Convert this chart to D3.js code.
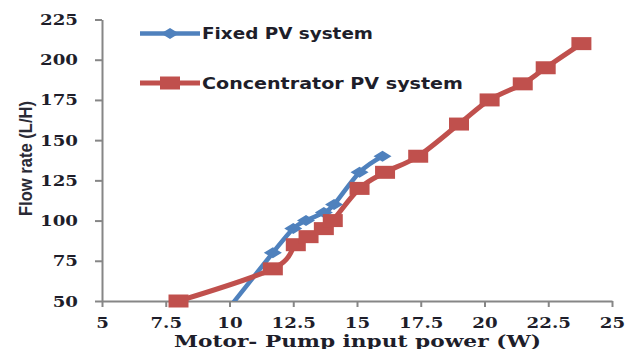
<!DOCTYPE html>
<html>
<head>
<meta charset="utf-8">
<script src="https://cdn.jsdelivr.net/npm/d3@7"></script>
<style>
  html, body { margin: 0; padding: 0; background: #fff; }
  svg { display: block; }
</style>
</head>
<body>
<svg id="chart" width="631" height="349"></svg>
<script>
// Flow rate versus motor-pump input power for two PV set-ups
const fixedPower = [9.7, 11.7, 12.5, 13.0, 13.7, 14.1, 15.1, 16.0];
const fixedFlow  = [40, 80, 95, 100, 105, 110, 130, 140];

const concPower = [8.0, 11.7, 12.6, 13.1, 13.7, 14.05, 15.1, 16.1, 17.4, 19.0, 20.2, 21.5, 22.4, 23.8];
const concFlow  = [50, 70, 85, 90, 95, 100, 120, 130, 140, 160, 175, 185, 195, 210];

const seriesNames = ["Fixed PV system", "Concentrator PV system"];
const xTicks = [5, 7.5, 10, 12.5, 15, 17.5, 20, 22.5, 25];
const yTicks = [50, 75, 100, 125, 150, 175, 200, 225];
const xTitle = "Motor- Pump input power (W)";
const yTitle = "Flow rate (L/H)";

const blue = "#4F81BD", red = "#C0504D", axisGrey = "#868686", ink = "#1e1e2a";
const stretch = 1.3;

const svg = d3.select("#chart");
const x = d3.scaleLinear().domain([5, 25]).range([102, 612]);
const y = d3.scaleLinear().domain([50, 225]).range([301, 19.5]);

// clip regions: lines stop at the plot frame, markers may overhang it
const defs = svg.append("defs");
defs.append("clipPath").attr("id", "plotClip").append("rect")
  .attr("x", 102).attr("y", 0).attr("width", 520).attr("height", 301);
defs.append("clipPath").attr("id", "markClip").append("rect")
  .attr("x", 90).attr("y", 0).attr("width", 540).attr("height", 309);

// axes
const xAxis = d3.axisBottom(x).tickValues(xTicks).tickSize(6).tickSizeOuter(0)
  .tickFormat(d => String(d));
const yAxis = d3.axisLeft(y).tickValues(yTicks).tickSize(7).tickSizeOuter(0)
  .tickFormat(d => String(d));

const gx = svg.append("g").attr("transform", `translate(0,${y(50)})`).call(xAxis);
const gy = svg.append("g").attr("transform", `translate(${x(5)},0)`).call(yAxis);

[gx, gy].forEach(g => {
  g.selectAll(".domain").attr("stroke", axisGrey).attr("stroke-width", 2);
  g.selectAll(".tick line").attr("stroke", axisGrey).attr("stroke-width", 2);
  g.selectAll(".tick text")
    .attr("font-family", "'DejaVu Serif', serif")
    .attr("font-weight", "bold")
    .attr("font-size", 14)
    .attr("fill", ink);
});
gx.selectAll(".tick text").attr("y", 0).attr("dy", 0)
  .attr("transform", `translate(0,27) scale(${stretch},1)`);
gy.selectAll(".tick text").attr("x", 0).attr("dy", 0)
  .attr("transform", `translate(-24,5) scale(${stretch},1)`);

// axis titles
svg.append("text")
  .attr("x", 174).attr("y", 347)
  .attr("textLength", 367).attr("lengthAdjust", "spacingAndGlyphs")
  .attr("font-family", "'DejaVu Serif', serif").attr("font-weight", "bold")
  .attr("font-size", 16).attr("fill", ink)
  .text(xTitle);

svg.append("text")
  .attr("transform", "translate(31.5,216) rotate(-90)")
  .attr("textLength", 115).attr("lengthAdjust", "spacingAndGlyphs")
  .attr("font-family", "'Liberation Sans', Arial, sans-serif").attr("font-weight", "bold")
  .attr("font-size", 19).attr("fill", "#2a2a35")
  .text(yTitle);

// markers
const diamond = "M-9,0L0,-5.5L9,0L0,5.5Z";
const square = "M-10,-6.5H10V6.5H-10Z";

const line = d3.line().x(d => x(d[0])).y(d => y(d[1])).curve(d3.curveCatmullRom.alpha(0));

const series = [
  { pts: d3.zip(fixedPower, fixedFlow), color: blue, width: 4.5, mark: diamond },
  { pts: d3.zip(concPower, concFlow), color: red, width: 5, mark: square }
];

series.forEach(s => {
  svg.append("path").datum(s.pts)
    .attr("clip-path", "url(#plotClip)")
    .attr("d", line).attr("fill", "none")
    .attr("stroke", s.color).attr("stroke-width", s.width)
    .attr("stroke-linejoin", "round");
});
series.forEach(s => {
  svg.append("g").attr("clip-path", "url(#markClip)")
    .selectAll("path").data(s.pts).join("path")
    .attr("transform", d => `translate(${x(d[0])},${y(d[1])})`)
    .attr("d", s.mark).attr("fill", s.color);
});

// legend
const legendY = [33.5, 83];
series.forEach((s, i) => {
  const g = svg.append("g").attr("transform", `translate(0,${legendY[i]})`);
  g.append("line").attr("x1", 140).attr("x2", 200)
    .attr("stroke", s.color).attr("stroke-width", s.width);
  g.append("path").attr("transform", "translate(170,0)").attr("d", s.mark).attr("fill", s.color);
  g.append("text").attr("x", 202).attr("y", 5.5)
    .attr("textLength", i === 0 ? 171 : 261).attr("lengthAdjust", "spacingAndGlyphs")
    .attr("font-family", "'DejaVu Sans', Verdana, sans-serif").attr("font-weight", "bold")
    .attr("font-size", 15).attr("fill", ink)
    .text(seriesNames[i]);
});
</script>
</body>
</html>
